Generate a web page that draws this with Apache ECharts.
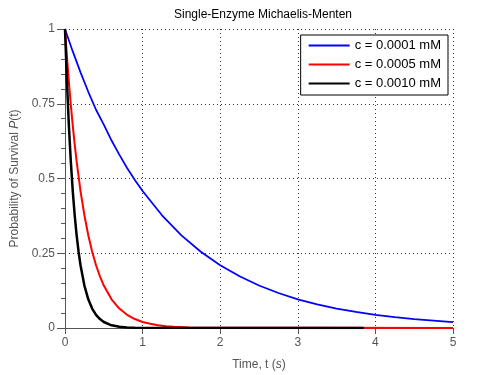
<!DOCTYPE html>
<html>
<head>
<meta charset="utf-8">
<script src="https://cdn.jsdelivr.net/npm/echarts@6/dist/echarts.min.js"></script>
<style>
  html, body { margin: 0; padding: 0; background: #fff; }
  #chart { width: 501px; height: 375px; }
</style>
</head>
<body>
<div id="chart"></div>
<script>
  // values
  const blueT = [0, 0.1, 0.2, 0.3, 0.4, 0.5, 0.6, 0.7, 0.8, 0.9, 1, 1.25, 1.5, 1.75, 2, 2.25, 2.5, 2.75, 3, 3.25, 3.5, 3.75, 4, 4.25, 4.5, 4.75, 5]
  const blueP = [1, 0.925, 0.855, 0.79, 0.73, 0.68, 0.627, 0.58, 0.535, 0.495, 0.458, 0.377, 0.31, 0.255, 0.21, 0.173, 0.142, 0.117, 0.096, 0.079, 0.065, 0.054, 0.044, 0.036, 0.030, 0.025, 0.020]
  const redT = [0, 0.025, 0.05, 0.075, 0.1, 0.125, 0.15, 0.2, 0.25, 0.3, 0.35, 0.4, 0.45, 0.5, 0.6, 0.7, 0.8, 0.9, 1.0, 1.1, 1.2, 1.3, 1.4, 1.6, 5]
  const redP = [1, 0.907, 0.823, 0.746, 0.677, 0.614, 0.557, 0.458, 0.377, 0.31, 0.255, 0.21, 0.173, 0.142, 0.096, 0.065, 0.044, 0.030, 0.020, 0.014, 0.009, 0.006, 0.004, 0.002, 0]
  const blackT = [0, 0.025, 0.05, 0.075, 0.1, 0.125, 0.15, 0.175, 0.2, 0.25, 0.3, 0.35, 0.4, 0.45, 0.5, 0.6, 0.7, 0.8, 0.9, 3.85]
  const blackP = [1, 0.823, 0.677, 0.557, 0.458, 0.377, 0.31, 0.255, 0.21, 0.142, 0.096, 0.065, 0.044, 0.030, 0.020, 0.009, 0.004, 0.002, 0.001, 0]
  const names = ['c = 0.0001 mM', 'c = 0.0005 mM', 'c = 0.0010 mM']

  const font = 'Liberation Sans'
  const axisGray = '#555'
  const gridDot = '#333'

  function pairs(t, p) {
    return t.map((x, i) => [x, p[i]])
  }

  const chart = echarts.init(document.getElementById('chart'))
  const option = {
    animation: false,
    textStyle: { fontFamily: font },
    title: {
      text: 'Single-Enzyme Michaelis-Menten',
      left: 258,
      textAlign: 'center',
      top: 4,
      textStyle: { fontFamily: font, fontSize: 12, fontWeight: 'normal', color: '#000' }
    },
    grid: { left: 65, right: 48, top: 29, bottom: 47, outerBoundsMode: 'none' },
    legend: {
      orient: 'vertical',
      right: 53,
      top: 35,
      backgroundColor: '#fff',
      borderColor: '#000',
      borderWidth: 1,
      borderRadius: 0,
      padding: [4, 7, 5, 8],
      itemGap: 6,
      itemWidth: 41,
      itemHeight: 13,
      itemTextGap: 4,
      icon: 'path://M0,5.5L41,5.5L41,7.5L0,7.5Z',
      textStyle: { fontFamily: font, fontSize: 13, color: '#000' },
      data: names
    },
    xAxis: {
      type: 'value',
      min: 0,
      max: 5,
      interval: 1,
      name: 'Time, t ({i|s})',
      nameLocation: 'middle',
      nameGap: 31,
      nameTextStyle: {
        fontFamily: font, fontSize: 12, color: axisGray,
        rich: { i: { fontFamily: font, fontSize: 12, fontStyle: 'italic', color: axisGray } }
      },
      axisLine: { show: true, lineStyle: { color: axisGray, width: 1 } },
      axisTick: { show: true, length: 6, lineStyle: { color: axisGray } },
      axisLabel: { color: axisGray, fontSize: 12, margin: 9 },
      splitLine: { show: true, lineStyle: { color: gridDot, type: [1, 3], width: 1 } }
    },
    yAxis: {
      type: 'value',
      min: 0,
      max: 1,
      interval: 0.25,
      name: 'Probability of Survival {i|P}(t)',
      nameLocation: 'middle',
      nameRotate: 90,
      nameGap: 44,
      nameTextStyle: {
        fontFamily: font, fontSize: 12, color: axisGray,
        rich: { i: { fontFamily: font, fontSize: 12, fontStyle: 'italic', color: axisGray } }
      },
      axisLine: { show: true, onZero: false, lineStyle: { color: axisGray, width: 1 } },
      axisTick: { show: true, length: 8, lineStyle: { color: axisGray } },
      minorTick: { show: true, splitNumber: 5, length: 4, lineStyle: { color: axisGray } },
      axisLabel: { color: axisGray, fontSize: 12, margin: 10 },
      splitLine: { show: true, lineStyle: { color: gridDot, type: [1, 3], width: 1 } }
    },
    series: [
      {
        name: names[0], type: 'line', showSymbol: false, smooth: false,
        color: '#0000ff', lineStyle: { width: 1.75 },
        data: pairs(blueT, blueP)
      },
      {
        name: names[1], type: 'line', showSymbol: false, smooth: false,
        color: '#ff0000', lineStyle: { width: 2 },
        data: pairs(redT, redP)
      },
      {
        name: names[2], type: 'line', showSymbol: false, smooth: false,
        color: '#000000', lineStyle: { width: 2.5 },
        data: pairs(blackT, blackP)
      }
    ]
  }
  chart.setOption(option)
</script>
</body>
</html>
